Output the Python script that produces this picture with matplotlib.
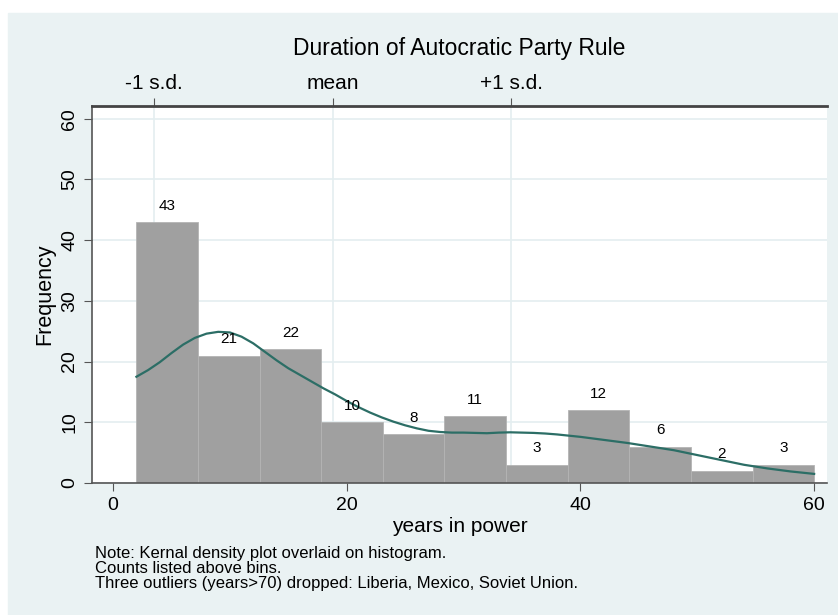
import matplotlib.pyplot as plt
from matplotlib.patches import Rectangle

# histogram: 11 bins from 2 to 60
bin_start = 2.0
bin_end = 60.0
counts = [43, 21, 22, 10, 8, 11, 3, 12, 6, 2, 3]

# kernel density (scaled to frequency)
kde_x = [2, 3, 4, 5, 6, 7, 8, 9, 10, 11, 12, 13, 14, 15, 16, 17, 18, 19, 20,
         21, 22, 23, 24, 25, 26, 27, 28, 29, 30, 31, 32, 33, 34, 35, 36, 37,
         38, 39, 40, 42, 44, 46, 48, 50, 52, 54, 56, 58, 60]
kde_y = [17.5, 18.6, 19.9, 21.4, 22.8, 23.9, 24.6, 24.9, 24.8, 24.1, 23.0,
         21.6, 20.2, 18.9, 17.8, 16.7, 15.6, 14.6, 13.5, 12.5, 11.6, 10.8,
         10.1, 9.5, 9.0, 8.6, 8.4, 8.3, 8.3, 8.25, 8.2, 8.3, 8.35, 8.3, 8.25,
         8.15, 8.0, 7.8, 7.6, 7.1, 6.6, 6.0, 5.4, 4.6, 3.8, 3.0, 2.4, 1.9, 1.5]

# top axis markers
sd_pos = [3.5, 18.8, 34.1]
sd_labels = ['-1 s.d.', 'mean', '+1 s.d.']

bg = '#eaf2f3'
grid_c = '#e4eef0'
ax_c = '#555555'
plt.rcParams['font.family'] = ['Liberation Sans', 'DejaVu Sans']

fig = plt.figure(figsize=(8.38, 6.15), dpi=100)
fig.patches.append(Rectangle((8 / 838, 0), 1, 1 - 13 / 615, transform=fig.transFigure,
                             color=bg, zorder=-10))
ax = fig.add_axes([92 / 838, 1 - 483 / 615, (827 - 92) / 838, (483 - 106) / 615])
ax.set_facecolor('white')

w = (bin_end - bin_start) / len(counts)
lefts = [bin_start + i * w for i in range(len(counts))]
ax.bar(lefts, counts, width=w, align='edge', color='#a0a0a0',
       edgecolor='#b4b4b4', linewidth=0.6, zorder=2)
for l, c in zip(lefts, counts):
    ax.text(l + w / 2, c + 2.7, str(c), ha='center', va='center', fontsize=11, zorder=4)

ax.plot(kde_x, kde_y, color='#2c6e66', lw=1.6, zorder=3)

ax.set_xlim(-1.8, 61.1)
ax.set_ylim(0, 62.1)
ax.set_xticks([0, 20, 40, 60])
ax.set_yticks(range(0, 61, 10))
ax.tick_params(axis='y', labelrotation=90, labelsize=14, length=6, color=ax_c, pad=4)
ax.tick_params(axis='x', labelsize=14, length=6, color=ax_c, pad=4)
for lab in ax.get_yticklabels():
    lab.set_va('center')
ax.yaxis.grid(True, color=grid_c, lw=1.2, zorder=0)
for p in sd_pos:
    ax.axvline(p, color=grid_c, lw=1.2, zorder=0)
ax.set_axisbelow(True)

ax.spines['right'].set_visible(False)
for s in ['left', 'bottom', 'top']:
    ax.spines[s].set_color(ax_c)
    ax.spines[s].set_linewidth(1.2)
ax.spines['top'].set_linewidth(2)
ax.spines['top'].set_color('#444444')

ax.set_xlabel('years in power', fontsize=15, labelpad=2)
ax.set_ylabel('Frequency', fontsize=15.5, labelpad=4)

top = ax.secondary_xaxis('top')
top.set_xticks(sd_pos)
top.set_xticklabels(sd_labels, fontsize=15)
top.tick_params(length=6, color=ax_c, pad=3)
top.spines['top'].set_visible(False)

fig.text(459 / 838, 1 - 49 / 615, 'Duration of Autocratic Party Rule',
         ha='center', va='center', fontsize=16.5)

note = ('Note: Kernal density plot overlaid on histogram.\n'
        'Counts listed above bins.\n'
        'Three outliers (years>70) dropped: Liberia, Mexico, Soviet Union.')
fig.text(95 / 838, 1 - 546 / 615, note, ha='left', va='top', fontsize=12, linespacing=1.02)

fig.savefig('out.png', dpi=100)
